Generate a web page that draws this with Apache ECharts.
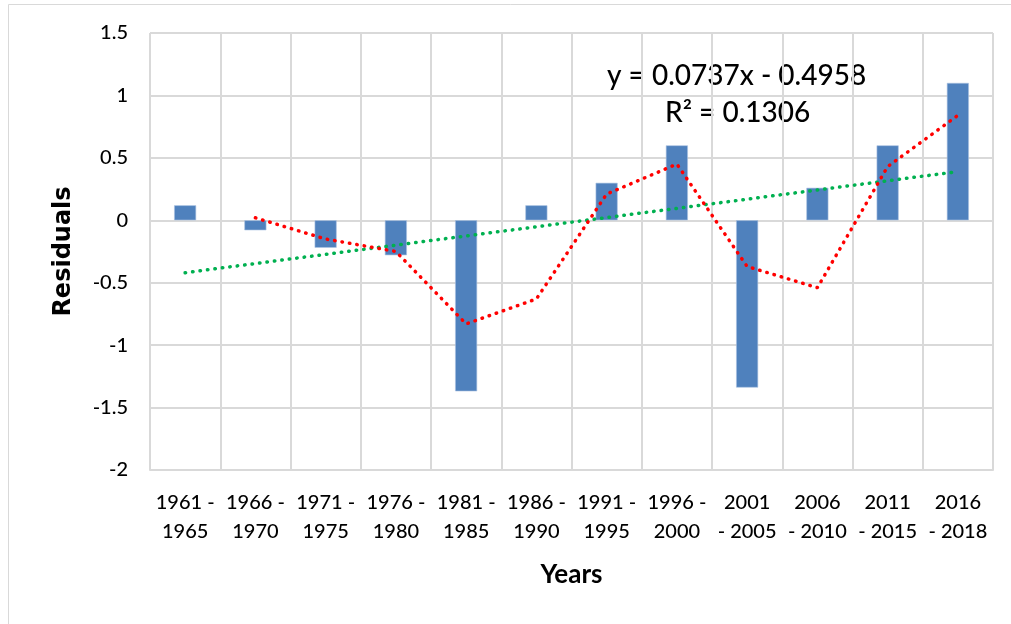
<!DOCTYPE html>
<html>
<head>
<meta charset="utf-8">
<script src="https://cdn.jsdelivr.net/npm/echarts@6/dist/echarts.min.js"></script>
<style>html,body{margin:0;padding:0;background:#fff}#c{width:1011px;height:624px}</style>
</head>
<body>
<div id="c"></div>
<script>
const categories = ["1961 -\n1965","1966 -\n1970","1971 -\n1975","1976 -\n1980","1981 -\n1985","1986 -\n1990","1991 -\n1995","1996 -\n2000","2001\n- 2005","2006\n- 2010","2011\n- 2015","2016\n- 2018"];
const residuals = [0.12, -0.08, -0.22, -0.28, -1.37, 0.12, 0.30, 0.60, -1.34, 0.26, 0.60, 1.10];
const movingAvg = [null, 0.02, -0.15, -0.25, -0.83, -0.63, 0.21, 0.45, -0.37, -0.54, 0.43, 0.84];
const trend = [-0.42, null, null, null, null, null, null, null, null, null, null, 0.39];
const equationLines = ["y = 0.0737x - 0.4958", "R² = 0.1306"];

const font = "Lato, 'Open Sans', sans-serif";
const chart = echarts.init(document.getElementById('c'), null, {renderer: 'canvas'});
chart.setOption({
  animation: false,
  backgroundColor: '#fff',
  grid: {left: 150, right: 18, top: 33, bottom: 154, containLabel: false},
  graphic: [
    {type: 'rect', shape: {x: 8.5, y: 4.5, width: 1010, height: 630}, style: {fill: 'none', stroke: '#d9d9d9', lineWidth: 1}},
    {type: 'text', left: 607, top: 62, style: {text: equationLines[0], font: "500 28px " + font, fill: '#000'}},
    {type: 'text', left: 665, top: 99, style: {text: equationLines[1], font: "500 28px " + font, fill: '#000'}}
  ],
  xAxis: {
    type: 'category',
    data: categories,
    boundaryGap: true,
    name: 'Years',
    nameLocation: 'middle',
    nameGap: 92,
    nameTextStyle: {fontFamily: font, fontSize: 26, fontWeight: 'bold', color: '#000'},
    axisLine: {show: true, onZero: false, lineStyle: {color: '#d9d9d9', width: 2}},
    axisTick: {show: false},
    axisLabel: {fontFamily: font, fontSize: 20, fontWeight: 500, color: '#000', margin: 18, lineHeight: 29, interval: 0},
    splitLine: {show: true, interval: 0, lineStyle: {color: '#d9d9d9', width: 2}}
  },
  yAxis: {
    type: 'value',
    min: -2, max: 1.5, interval: 0.5,
    name: 'Residuals',
    nameLocation: 'middle',
    nameGap: 74,
    nameTextStyle: {fontFamily: "'DejaVu Sans', sans-serif", fontSize: 24, fontWeight: 'bold', color: '#000'},
    axisLine: {show: false},
    axisTick: {show: false},
    axisLabel: {fontFamily: font, fontSize: 20, fontWeight: 500, color: '#000', margin: 22},
    splitLine: {show: true, lineStyle: {color: '#d9d9d9', width: 2}}
  },
  series: [
    {type: 'bar', data: residuals, barWidth: 22, itemStyle: {color: '#4f81bd', borderColor: '#a9c1e0', borderWidth: 0.6}, z: 2},
    {type: 'line', data: movingAvg, symbol: 'none', connectNulls: false,
     lineStyle: {color: '#ff0000', width: 3.5, type: [0.5, 7], cap: 'round'}, z: 4},
    {type: 'line', data: trend, symbol: 'none', connectNulls: true,
     lineStyle: {color: '#00b050', width: 3.5, type: [0.5, 7], cap: 'round'}, z: 3}
  ]
});
</script>
</body>
</html>
